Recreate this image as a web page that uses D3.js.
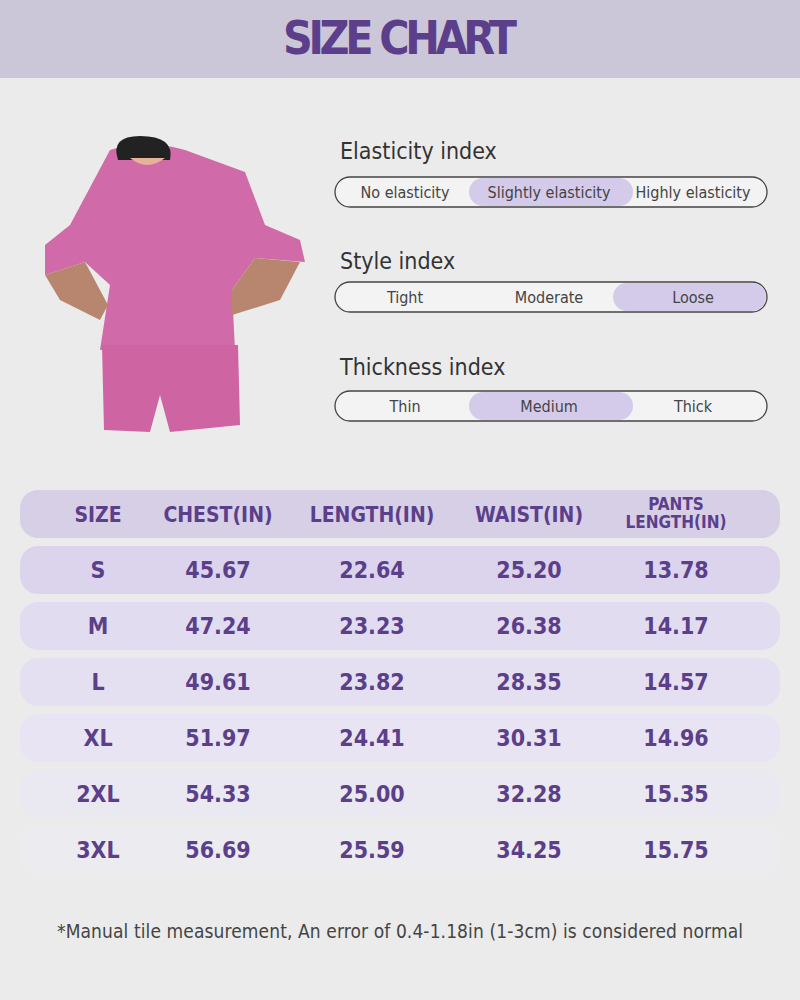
<!DOCTYPE html>
<html><head><meta charset="utf-8">
<script src="https://cdn.jsdelivr.net/npm/d3@7"></script>
<style>body{margin:0;background:#ebebeb}svg{display:block}</style>
</head><body>
<script>
const title = "SIZE CHART";
const indexNames = ["Elasticity index","Style index","Thickness index"];
const indexOptions = [["No elasticity","Slightly elasticity","Highly elasticity"],["Tight","Moderate","Loose"],["Thin","Medium","Thick"]];
const indexSelected = [1,2,1];
const columns = ["SIZE","CHEST(IN)","LENGTH(IN)","WAIST(IN)","PANTS\nLENGTH(IN)"];
const sizes = ["S","M","L","XL","2XL","3XL"];
const chest = ["45.67","47.24","49.61","51.97","54.33","56.69"];
const lengthIn = ["22.64","23.23","23.82","24.41","25.00","25.59"];
const waist = ["25.20","26.38","28.35","30.31","32.28","34.25"];
const pants = ["13.78","14.17","14.57","14.96","15.35","15.75"];
const rowColors = ["#dbd4ec","#e2dcf0","#e5e0f1","#e8e4f3","#eae8f1","#ecebef"];
const note = "*Manual tile measurement, An error of 0.4-1.18in (1-3cm) is considered normal";

const purple="#5b3f8a", cond="'DejaVu Sans Condensed','Roboto Condensed',Roboto,sans-serif";
const svg=d3.select("body").append("svg").attr("width",800).attr("height",1000);
svg.append("rect").attr("width",800).attr("height",1000).attr("fill","#ebebeb");
svg.append("rect").attr("width",800).attr("height",78).attr("fill","#cbc6d8");
svg.append("text").attr("x",400).attr("y",54).attr("text-anchor","middle").attr("fill",purple)
 .attr("font-family",cond).attr("font-weight","bold").attr("font-size",46).attr("textLength",234).text(title);

// simple model illustration
const g=svg.append("g");
g.append("path").attr("d","M110,150 Q145,138 185,150 L245,172 L265,225 L300,240 L305,262 L255,258 L232,290 L235,350 L100,350 L110,285 L85,262 L45,275 L45,245 L70,225 Z").attr("fill","#d06aa8");
g.append("path").attr("d","M102,345 L238,345 L240,425 L170,432 L160,395 L150,432 L104,430 Z").attr("fill","#cf64a3");
g.append("path").attr("d","M118,160 Q110,136 140,136 Q175,136 170,160 Z").attr("fill","#222");
g.append("path").attr("d","M130,158 Q147,172 165,158").attr("fill","#e6b39a");
g.append("path").attr("d","M45,275 L60,300 L100,320 L108,305 L85,262 Z M300,262 L280,300 L232,315 L232,290 L255,258 Z").attr("fill","#b8866e");

// indices
const iy=[159,269,375], py=[177,282,391];
indexNames.forEach((n,i)=>{
  svg.append("text").attr("x",340).attr("y",iy[i]).attr("font-family","'DejaVu Sans Condensed',sans-serif").attr("font-size",23).attr("fill","#333").text(n);
  const x=d3.scaleBand().domain(indexOptions[i]).range([335,767]);
  svg.append("rect").attr("x",335).attr("y",py[i]).attr("width",432).attr("height",30).attr("rx",15).attr("fill","#f3f3f3").attr("stroke","#444").attr("stroke-width",1.3);
  const s=indexOptions[i][indexSelected[i]];
  svg.append("rect").attr("x",x(s)-10).attr("y",py[i]+1).attr("width",x.bandwidth()+(indexSelected[i]==2?9:20)).attr("height",28).attr("rx",14).attr("fill","#d4cbea");
  svg.selectAll(null).data(indexOptions[i]).join("text").attr("x",d=>x(d)+x.bandwidth()/2-2).attr("y",py[i]+21)
   .attr("text-anchor","middle").attr("font-family",cond).attr("font-size",16).attr("fill","#444").text(d=>d);
});

// table
const cxs=[98,218,372,529,676];
svg.append("rect").attr("x",20).attr("y",490).attr("width",760).attr("height",48).attr("rx",18).attr("fill","#d6cfe6");
columns.forEach((c,j)=>{
  const lines=c.split("\n"), fs=lines.length>1?17:21;
  const t=svg.append("text").attr("text-anchor","middle").attr("fill",purple).attr("font-family",cond).attr("font-weight","bold").attr("font-size",fs);
  lines.forEach((l,k)=>t.append("tspan").attr("x",cxs[j]).attr("y",lines.length>1?510+k*18:522).text(l));
});
const ry=d3.scaleBand().domain(sizes).range([546,874]).paddingInner(8/56).paddingOuter(0);
const rows=sizes.map((s,i)=>[s,chest[i],lengthIn[i],waist[i],pants[i]]);
rows.forEach((r,i)=>{
  const y=ry(sizes[i]);
  svg.append("rect").attr("x",20).attr("y",y).attr("width",760).attr("height",ry.bandwidth()).attr("rx",18).attr("fill",rowColors[i]);
  r.forEach((v,j)=>svg.append("text").attr("x",cxs[j]).attr("y",y+ry.bandwidth()/2+8).attr("text-anchor","middle")
   .attr("fill",purple).attr("font-family",cond).attr("font-size",23).attr("font-weight","bold").text(v));
});
svg.append("text").attr("x",400).attr("y",938).attr("text-anchor","middle").attr("fill","#444").attr("font-family","'DejaVu Sans Condensed',sans-serif").attr("font-size",19).attr("textLength",686).text(note);
</script></body></html>
